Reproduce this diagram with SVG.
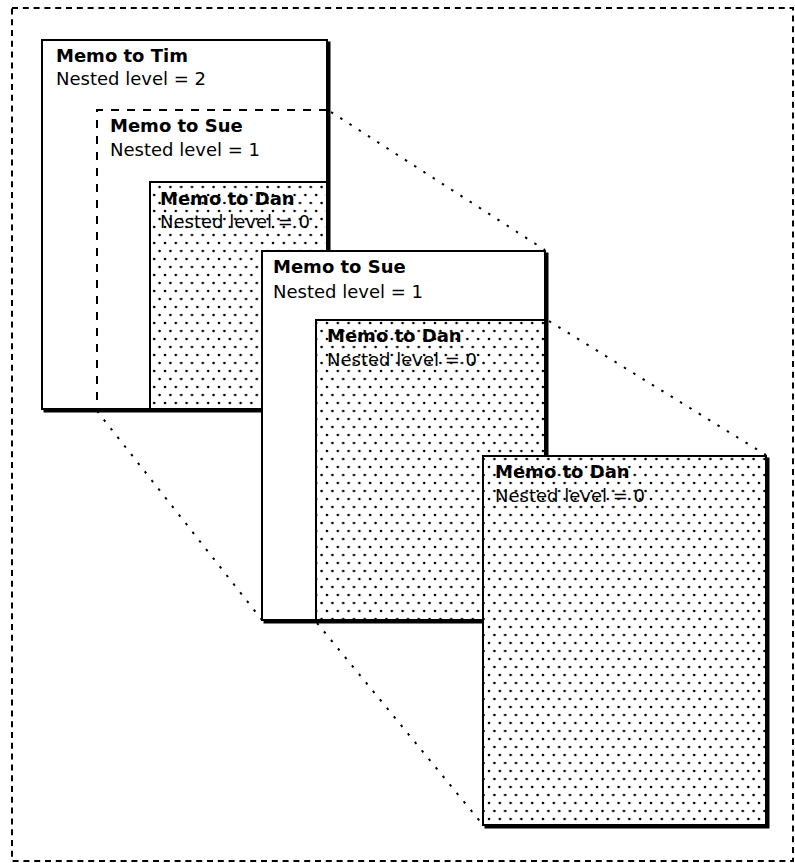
<svg xmlns="http://www.w3.org/2000/svg" width="795" height="863" viewBox="0 0 795 863">
<defs>
<pattern id="dots" width="10.8" height="16" patternUnits="userSpaceOnUse">
<rect width="10.8" height="16" fill="#fff"/>
<circle cx="3" cy="3" r="1.3" fill="#000"/>
<circle cx="8.4" cy="11" r="1.3" fill="#000"/>
</pattern>
</defs>
<style>
.t{font-family:"DejaVu Sans",sans-serif;font-size:18px;fill:#000}
.b{font-weight:bold}
.box{stroke:#000;stroke-width:2}
.shadow{fill:#000;stroke:#000;stroke-width:2}
.edge{stroke:#000;stroke-width:2;fill:none}
.dash{stroke:#000;stroke-width:2;fill:none;stroke-dasharray:8 8}
.conn{stroke:#000;stroke-width:2;fill:none;stroke-dasharray:2.5 8.5}
.frame{stroke:#000;stroke-width:2;fill:none;stroke-dasharray:6 4.8}
</style>
<rect class="frame" x="12" y="8" width="781" height="853"/>
<g id="memo-tim">
<rect class="shadow" x="44.5" y="42.5" width="285" height="369"/>
<rect x="42" y="40" width="285" height="369" fill="#fff"/>
<text class="t b" x="56" y="62">Memo to Tim</text>
<text class="t" x="56" y="85">Nested level = 2</text>
<g id="memo-sue-nested">
<path class="dash" d="M327 110 H97 V409"/>
<text class="t b" x="110" y="132">Memo to Sue</text>
<text class="t" x="110" y="156">Nested level = 1</text>
</g>
<g id="memo-dan-nested">
<rect x="150" y="182" width="177" height="227" fill="url(#dots)"/>
<path class="edge" d="M327 182 H150 V409"/>
<text class="t b" x="160" y="205">Memo to Dan</text>
<text class="t" x="160" y="228">Nested level = 0</text>
</g>
<rect class="box" x="42" y="40" width="285" height="369" fill="none"/>
</g>
<g id="memo-sue">
<rect class="shadow" x="264.5" y="253.5" width="283" height="369"/>
<rect x="262" y="251" width="283" height="369" fill="#fff"/>
<text class="t b" x="273" y="273">Memo to Sue</text>
<text class="t" x="273" y="298">Nested level = 1</text>
<g id="memo-dan-in-sue">
<rect x="316" y="320" width="229" height="300" fill="url(#dots)"/>
<path class="edge" d="M545 320 H316 V620"/>
<text class="t b" x="327" y="342">Memo to Dan</text>
<text class="t" x="327" y="366">Nested level = 0</text>
</g>
<rect class="box" x="262" y="251" width="283" height="369" fill="none"/>
</g>
<g id="memo-dan">
<rect class="shadow" x="485.5" y="458.5" width="283" height="369"/>
<rect class="box" x="483" y="456" width="283" height="369" fill="url(#dots)"/>
<text class="t b" x="495" y="478">Memo to Dan</text>
<text class="t" x="495" y="502">Nested level = 0</text>
</g>
<g id="connectors">
<line class="conn" x1="331" y1="112" x2="545" y2="250"/>
<line class="conn" x1="97" y1="411" x2="262" y2="620"/>
<line class="conn" x1="549" y1="321" x2="766" y2="455"/>
<line class="conn" x1="317" y1="623" x2="483" y2="825"/>
</g>
</svg>
